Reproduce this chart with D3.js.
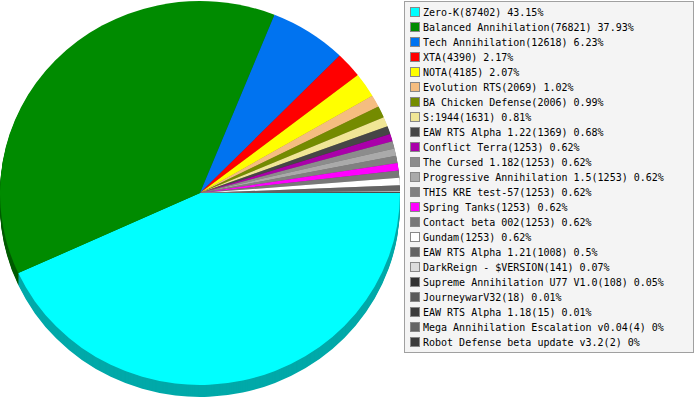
<!DOCTYPE html>
<html>
<head>
<meta charset="utf-8">
<script src="https://cdn.jsdelivr.net/npm/d3@7"></script>
<style>
  body { margin: 0; background: #fff; }
  svg { display: block; }
</style>
</head>
<body>
<div id="chart"></div>
<script>
// games and their player counts, in draw order
var games = ["Zero-K", "Balanced Annihilation", "Tech Annihilation", "XTA", "NOTA",
    "Evolution RTS", "BA Chicken Defense", "S:1944", "EAW RTS Alpha 1.22", "Conflict Terra",
    "The Cursed 1.182", "Progressive Annihilation 1.5", "THIS KRE test-57", "Spring Tanks",
    "Contact beta 002", "Gundam", "EAW RTS Alpha 1.21", "DarkReign - $VERSION",
    "Supreme Annihilation U77 V1.0", "JourneywarV32", "EAW RTS Alpha 1.18",
    "Mega Annihilation Escalation v0.04", "Robot Defense beta update v3.2"];
var counts = [87402, 76821, 12618, 4390, 4185, 2069, 2006, 1631, 1369, 1253,
    1253, 1253, 1253, 1253, 1253, 1253, 1008, 141, 108, 18, 15, 4, 2];
var colors = ["#00ffff", "#008b00", "#0073f0", "#ff0000", "#ffff00", "#f5bd80", "#748b00",
    "#f0e696", "#464646", "#aa00aa", "#8c8c8c", "#aaaaaa", "#808080", "#ff00ff", "#787878",
    "#ffffff", "#646464", "#dcdcdc", "#323232", "#5a5a5a", "#3c3c3c", "#646464", "#3c3c3c"];

var width = 695, height = 400;
var cx = 200, cy = 193, rx = 200, ry = 192, depth = 12;

var total = d3.sum(counts);
var data = games.map(function(g, i) {
    return {name: g, value: counts[i], color: colors[i]};
});

var svg = d3.select("#chart").append("svg")
    .attr("width", width)
    .attr("height", height);

// slices start at 3 o'clock and run clockwise
var pie = d3.pie()
    .sort(null)
    .value(function(d) { return d.value; })
    .startAngle(Math.PI / 2)
    .endAngle(Math.PI / 2 + 2 * Math.PI);

var arcs = pie(data);
var arc = d3.arc().innerRadius(0).outerRadius(rx);

var pieG = svg.append("g");

// side wall: stacked layers in a darker shade
for (var k = depth; k >= 1; k--) {
    pieG.append("g")
        .attr("transform", "translate(" + cx + "," + (cy + k) + ") scale(1," + (ry / rx) + ")")
        .selectAll("path")
        .data(arcs)
        .enter()
        .append("path")
        .attr("d", arc)
        .attr("fill", function(d) { return d3.color(d.data.color).darker(1.15); });
}

// top face
pieG.append("g")
    .attr("transform", "translate(" + cx + "," + cy + ") scale(1," + (ry / rx) + ")")
    .selectAll("path")
    .data(arcs)
    .enter()
    .append("path")
    .attr("d", arc)
    .attr("fill", function(d) { return d.data.color; });

// legend
var legX = 404.5, legY = 1.5, rowH = 15;
var legend = svg.append("g");

legend.append("rect")
    .attr("x", legX)
    .attr("y", legY)
    .attr("width", 289)
    .attr("height", 351)
    .attr("fill", "#f4f4f4")
    .attr("stroke", "#a0a0a0");

var rows = legend.selectAll(".row")
    .data(data)
    .enter()
    .append("g")
    .attr("class", "row")
    .attr("transform", function(d, i) { return "translate(0," + (12 + i * rowH) + ")"; });

rows.append("rect")
    .attr("x", 410.5)
    .attr("y", -4.5)
    .attr("width", 9)
    .attr("height", 9)
    .attr("fill", function(d) { return d.color; })
    .attr("stroke", "#888888");

rows.append("text")
    .attr("x", 423)
    .attr("y", 4)
    .style("font-family", "'DejaVu Sans Mono', monospace")
    .style("font-size", "10px")
    .attr("fill", "#000")
    .text(function(d) {
        var pct = Math.round(d.value / total * 10000) / 100;
        return d.name + "(" + d.value + ") " + pct + "%";
    });
</script>
</body>
</html>
